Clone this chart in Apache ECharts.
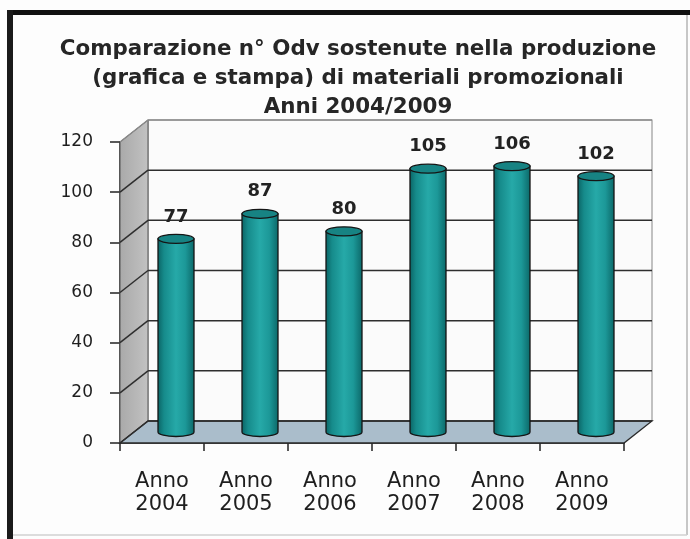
<!DOCTYPE html>
<html>
<head>
<meta charset="utf-8">
<script src="https://cdn.jsdelivr.net/npm/echarts@6/dist/echarts.min.js"></script>
<style>
  html, body { margin: 0; padding: 0; background: #fdfdfd; }
  #chart { width: 690px; height: 539px; }
</style>
</head>
<body>
<div id="chart"></div>
<script>
// Chart data
const categories = ['Anno\n2004', 'Anno\n2005', 'Anno\n2006', 'Anno\n2007', 'Anno\n2008', 'Anno\n2009'];
const values = [77, 87, 80, 105, 106, 102];
const yTicks = [0, 20, 40, 60, 80, 100, 120];
const titleText = 'Comparazione n° Odv sostenute nella produzione\n(grafica e stampa) di materiali promozionali\nAnni 2004/2009';

// Depth of the pseudo-3D box (back plane offset from the front plane)
const DX = 28;
const DY = -22;
const R = 18;      // cylinder radius
const RY = 4.5;    // cylinder ellipse half-height

const chart = echarts.init(document.getElementById('chart'), null, { renderer: 'canvas' });

function ellipsePath(cx, cy, rx, ry) {
  return 'M' + (cx - rx) + ' ' + cy +
    ' A' + rx + ' ' + ry + ' 0 1 0 ' + (cx + rx) + ' ' + cy +
    ' A' + rx + ' ' + ry + ' 0 1 0 ' + (cx - rx) + ' ' + cy + ' Z';
}

// Side wall, back wall and floor
function renderWalls(params, api) {
  const cs = params.coordSys;
  const x0 = cs.x, x1 = cs.x + cs.width, yT = cs.y, yB = cs.y + cs.height;
  return {
    type: 'group',
    children: [
      {
        type: 'rect',
        shape: { x: x0 + DX, y: yT + DY, width: cs.width, height: cs.height },
        style: { fill: '#fbfbfb', stroke: '#9a9a9a', lineWidth: 1.2 }
      },
      {
        type: 'polygon',
        shape: { points: [[x0, yB], [x0, yT], [x0 + DX, yT + DY], [x0 + DX, yB + DY]] },
        style: {
          fill: new echarts.graphic.LinearGradient(0, 0, 1, 0, [
            { offset: 0, color: '#a9a9a9' },
            { offset: 1, color: '#c2c2c2' }
          ]),
          stroke: '#555', lineWidth: 1
        }
      },
      {
        type: 'polygon',
        shape: { points: [[x0, yB], [x0 + DX, yB + DY], [x1 + DX, yB + DY], [x1, yB]] },
        style: { fill: '#aabdcb', stroke: '#2a2a2a', lineWidth: 1.3 }
      }
    ]
  };
}

// Gridlines running along the side wall and the back wall
function renderGrid(params, api) {
  const cs = params.coordSys;
  const x0 = cs.x, x1 = cs.x + cs.width;
  const v = api.value(0);
  const y = api.coord([0, v])[1];
  const color = v === yTicks[yTicks.length - 1] ? '#8a8a8a' : '#2e2e2e';
  return {
    type: 'group',
    children: [
      { type: 'line', shape: { x1: x0, y1: y, x2: x0 + DX, y2: y + DY }, style: { stroke: color, lineWidth: 1.5 } },
      { type: 'line', shape: { x1: x0 + DX, y1: y + DY, x2: x1 + DX, y2: y + DY }, style: { stroke: color, lineWidth: 1.5 } }
    ]
  };
}

// Cylinders with value labels
function renderCylinder(params, api) {
  const idx = api.value(0);
  const v = api.value(1);
  const base = api.coord([idx, 0]);
  const top = api.coord([idx, v]);
  const cx = base[0] + DX / 2;
  const yb = base[1] + DY / 2;
  const yt = top[1] + DY / 2;
  const body = 'M' + (cx - R) + ' ' + yt + ' L' + (cx - R) + ' ' + yb +
    ' A' + R + ' ' + RY + ' 0 0 0 ' + (cx + R) + ' ' + yb +
    ' L' + (cx + R) + ' ' + yt + ' Z';
  return {
    type: 'group',
    children: [
      {
        type: 'path',
        shape: { pathData: body },
        style: {
          fill: new echarts.graphic.LinearGradient(0, 0, 1, 0, [
            { offset: 0, color: '#0a6263' },
            { offset: 0.18, color: '#168b8b' },
            { offset: 0.5, color: '#26a9a8' },
            { offset: 0.75, color: '#1c9898' },
            { offset: 1, color: '#0b6667' }
          ]),
          stroke: '#151515', lineWidth: 1.3
        }
      },
      {
        type: 'path',
        shape: { pathData: ellipsePath(cx, yt, R, RY) },
        style: { fill: '#178383', stroke: '#151515', lineWidth: 1.3 }
      },
      {
        type: 'text',
        style: {
          text: String(v), x: cx, y: yt - 22,
          align: 'center', verticalAlign: 'middle',
          font: 'bold 18px "DejaVu Sans"', fill: '#222'
        }
      }
    ]
  };
}

chart.setOption({
  backgroundColor: '#fdfdfd',
  animation: false,
  title: {
    text: titleText,
    left: 353,
    top: 30,
    textAlign: 'center',
    textStyle: {
      fontFamily: 'DejaVu Sans',
      fontWeight: 'bold',
      fontSize: 21.4,
      lineHeight: 29,
      color: '#262626'
    }
  },
  grid: { left: 120, right: 66, top: 142, bottom: 96, containLabel: false },
  xAxis: {
    type: 'category',
    data: categories,
    axisLine: { show: true, lineStyle: { color: '#222', width: 1.5 } },
    axisTick: { show: true, length: 8, lineStyle: { color: '#222', width: 1.5 } },
    axisLabel: {
      margin: 27, fontSize: 21, lineHeight: 23,
      fontFamily: 'DejaVu Sans', color: '#1e1e1e'
    },
    splitLine: { show: false }
  },
  yAxis: {
    type: 'value',
    min: 0, max: 120, interval: 20,
    axisLine: { show: true, lineStyle: { color: '#222', width: 1.5 } },
    axisTick: { show: true, length: 10, lineStyle: { color: '#222', width: 1.5 } },
    axisLabel: { margin: 27, fontSize: 17, fontFamily: 'DejaVu Sans', color: '#1e1e1e' },
    splitLine: { show: false }
  },
  series: [
    {
      type: 'custom', name: 'walls', z: 1, silent: true,
      renderItem: renderWalls,
      data: [[0, 0]]
    },
    {
      type: 'custom', name: 'grid', z: 2, silent: true,
      renderItem: renderGrid,
      encode: { y: 0 },
      data: yTicks.map(function (t) { return [t]; })
    },
    {
      type: 'custom', name: 'Odv', z: 3,
      renderItem: renderCylinder,
      encode: { x: 0, y: 1 },
      data: values.map(function (v, i) { return [i, v]; })
    }
  ],
  graphic: [
    { type: 'rect', shape: { x: 7, y: 10, width: 683, height: 5 }, style: { fill: '#111' }, z: 10 },
    { type: 'rect', shape: { x: 7, y: 10, width: 6, height: 529 }, style: { fill: '#1a1a1a' }, z: 10 },
    { type: 'line', shape: { x1: 687, y1: 15, x2: 687, y2: 535 }, style: { stroke: '#b5b5b5', lineWidth: 1.5 }, z: 10 },
    { type: 'line', shape: { x1: 13, y1: 535, x2: 687, y2: 535 }, style: { stroke: '#d0d0d0', lineWidth: 1.5 }, z: 10 }
  ]
});
</script>
</body>
</html>
